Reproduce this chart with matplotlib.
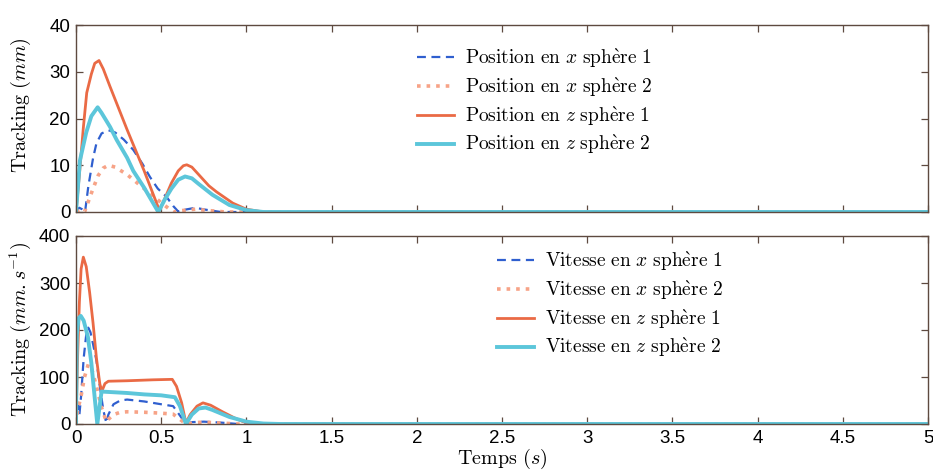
import numpy as np
import matplotlib
matplotlib.use("Agg")
import matplotlib.pyplot as plt

plt.rcParams["mathtext.fontset"] = "cm"
plt.rcParams["font.family"] = ["Liberation Sans", "DejaVu Sans"]

# position curves (mm)
t_px1 = [0, 0.01, 0.02, 0.035, 0.053, 0.072, 0.1, 0.12, 0.15, 0.19, 0.23, 0.28, 0.336, 0.39, 0.434, 0.48, 0.53, 0.57, 0.6, 0.64, 0.7, 0.76, 0.85, 5]
px1 = [0, 0.6, 0.9, 0.6, 0, 5.4, 11.5, 14.7, 16.8, 17.5, 17.0, 15.5, 13.3, 10.3, 7.5, 5.0, 3.3, 1.3, 0.1, 0.5, 0.9, 0.5, 0, 0]
t_px2 = [0, 0.02, 0.05, 0.08, 0.1, 0.13, 0.16, 0.19, 0.23, 0.3, 0.4, 0.5, 0.57, 0.62, 0.7, 0.78, 0.88, 5]
px2 = [0, 0.5, 0, 3.0, 5.0, 7.8, 9.4, 10.0, 9.6, 8.0, 5.0, 2.0, 0, 0.3, 0.6, 0.3, 0, 0]
t_pz1 = [0, 0.02, 0.043, 0.063, 0.09, 0.11, 0.135, 0.16, 0.2, 0.3, 0.4, 0.49, 0.52, 0.56, 0.6, 0.63, 0.65, 0.68, 0.72, 0.78, 0.825, 0.92, 1.0, 1.1, 5]
pz1 = [0, 8, 18, 25.5, 29.5, 31.8, 32.4, 30.6, 26.8, 17.6, 8.8, 0.3, 2.8, 6.2, 8.8, 9.9, 10.1, 9.6, 8.0, 5.6, 4.3, 1.9, 0.6, 0, 0]
t_pz2 = [0, 0.023, 0.06, 0.09, 0.127, 0.15, 0.2, 0.239, 0.3, 0.336, 0.4, 0.483, 0.52, 0.56, 0.6, 0.64, 0.68, 0.72, 0.8, 0.9, 1.0, 1.1, 5]
pz2 = [0, 11, 17, 20.5, 22.4, 21.2, 18.2, 15.4, 11.6, 8.8, 5.2, 0, 2.6, 5.0, 6.9, 7.6, 7.2, 6.0, 3.7, 1.5, 0.4, 0, 0]

# velocity curves (mm/s)
t_vx1 = [0, 0.01, 0.02, 0.03, 0.045, 0.06, 0.072, 0.085, 0.1, 0.12, 0.14, 0.16, 0.178, 0.19, 0.22, 0.26, 0.3, 0.4, 0.5, 0.57, 0.61, 0.645, 0.68, 0.75, 0.85, 0.95, 5]
vx1 = [0, 40, 20, 60, 140, 190, 205, 195, 170, 135, 80, 30, 2, 20, 42, 50, 52, 48, 42, 38, 18, 0, 4, 5, 3, 0, 0]
t_vx2 = [0, 0.01, 0.03, 0.05, 0.072, 0.09, 0.12, 0.15, 0.178, 0.19, 0.22, 0.26, 0.3, 0.4, 0.5, 0.57, 0.61, 0.645, 0.7, 0.75, 0.85, 0.95, 5]
vx2 = [0, 30, 60, 100, 127, 120, 80, 35, 5, 10, 20, 25, 26, 25, 23, 21, 10, 0, 3, 4, 2, 0, 0]
t_vz1 = [0, 0.01, 0.02, 0.03, 0.043, 0.06, 0.08, 0.1, 0.12, 0.14, 0.152, 0.17, 0.19, 0.3, 0.45, 0.565, 0.59, 0.62, 0.645, 0.67, 0.71, 0.745, 0.79, 0.86, 0.93, 0.98, 1.03, 5]
vz1 = [0, 150, 260, 330, 355, 335, 280, 215, 140, 85, 70, 86, 91, 92, 94, 95, 80, 45, 2, 20, 38, 45, 40, 26, 13, 5, 0, 0]
t_vz2 = [0, 0.005, 0.015, 0.028, 0.045, 0.07, 0.09, 0.11, 0.125, 0.15, 0.2, 0.3, 0.4, 0.5, 0.58, 0.61, 0.645, 0.68, 0.72, 0.76, 0.8, 0.9, 1.0, 1.1, 1.2, 5]
vz2 = [0, 190, 225, 230, 220, 185, 130, 55, 0, 69, 68, 66, 63, 61, 57, 38, 0, 20, 33, 35, 30, 15, 5, 1, 0, 0]

c_blue = "#2f5fcf"
c_salmon = "#f7a387"
c_red = "#ea6a45"
c_cyan = "#5cc6da"
c_frame = "#5e4a40"

fig = plt.figure(figsize=(9.33, 4.71), dpi=100)
ax1 = fig.add_axes([76 / 933, 1 - 212 / 471, 852 / 933, 187 / 471])
ax2 = fig.add_axes([76 / 933, 1 - 424 / 471, 852 / 933, 188 / 471])

ax1.plot(t_px1, px1, "--", color=c_blue, lw=1.6, dashes=(4, 2.5), label=r"$\mathrm{Position\ en\ }x\mathrm{\ sph\grave{e}re\ 1}$")
ax1.plot(t_px2, px2, ":", color=c_salmon, lw=2.6, label=r"$\mathrm{Position\ en\ }x\mathrm{\ sph\grave{e}re\ 2}$")
ax1.plot(t_pz1, pz1, "-", color=c_red, lw=2.0, label=r"$\mathrm{Position\ en\ }z\mathrm{\ sph\grave{e}re\ 1}$")
ax1.plot(t_pz2, pz2, "-", color=c_cyan, lw=2.8, label=r"$\mathrm{Position\ en\ }z\mathrm{\ sph\grave{e}re\ 2}$")

ax2.plot(t_vx1, vx1, "--", color=c_blue, lw=1.6, dashes=(4, 2.5), label=r"$\mathrm{Vitesse\ en\ }x\mathrm{\ sph\grave{e}re\ 1}$")
ax2.plot(t_vx2, vx2, ":", color=c_salmon, lw=2.6, label=r"$\mathrm{Vitesse\ en\ }x\mathrm{\ sph\grave{e}re\ 2}$")
ax2.plot(t_vz1, vz1, "-", color=c_red, lw=2.0, label=r"$\mathrm{Vitesse\ en\ }z\mathrm{\ sph\grave{e}re\ 1}$")
ax2.plot(t_vz2, vz2, "-", color=c_cyan, lw=2.8, label=r"$\mathrm{Vitesse\ en\ }z\mathrm{\ sph\grave{e}re\ 2}$")

ax1.set_ylim(0, 40)
ax1.set_yticks([0, 10, 20, 30, 40])
ax2.set_ylim(0, 400)
ax2.set_yticks([0, 100, 200, 300, 400])
xt = np.arange(0, 5.01, 0.5)
for ax in (ax1, ax2):
    ax.set_xlim(0, 5)
    ax.set_xticks(xt)
    ax.tick_params(direction="in", length=5, width=0.9, color=c_frame, labelsize=13.5,
                   top=True, right=True, pad=4)
    for s in ax.spines.values():
        s.set_color(c_frame)
        s.set_linewidth(1.0)
ax1.set_xticklabels([])
ax2.set_xticklabels(["0", "0.5", "1", "1.5", "2", "2.5", "3", "3.5", "4", "4.5", "5"])

ax1.set_ylabel(r"$\mathrm{Tracking}\ (mm)$", fontsize=14.5)
ax2.set_ylabel(r"$\mathrm{Tracking}\ (mm.s^{-1})$", fontsize=14.5)
ax1.yaxis.set_label_coords(-0.05, 0.57)
ax2.yaxis.set_label_coords(-0.05, 0.5)
ax2.set_xlabel(r"$\mathrm{Temps}\ (s)$", fontsize=14.5, labelpad=0.5)

ax1.legend(loc="upper left", bbox_to_anchor=(417 / 933, 1 - 47 / 471), bbox_transform=fig.transFigure,
           frameon=False, fontsize=14, borderpad=0, borderaxespad=0, handlelength=1.9,
           handletextpad=0.55, labelspacing=0.28)
ax2.legend(loc="upper left", bbox_to_anchor=(497 / 933, 1 - 250 / 471), bbox_transform=fig.transFigure,
           frameon=False, fontsize=14, borderpad=0, borderaxespad=0, handlelength=1.9,
           handletextpad=0.55, labelspacing=0.28)

fig.savefig("out.png", dpi=100)
